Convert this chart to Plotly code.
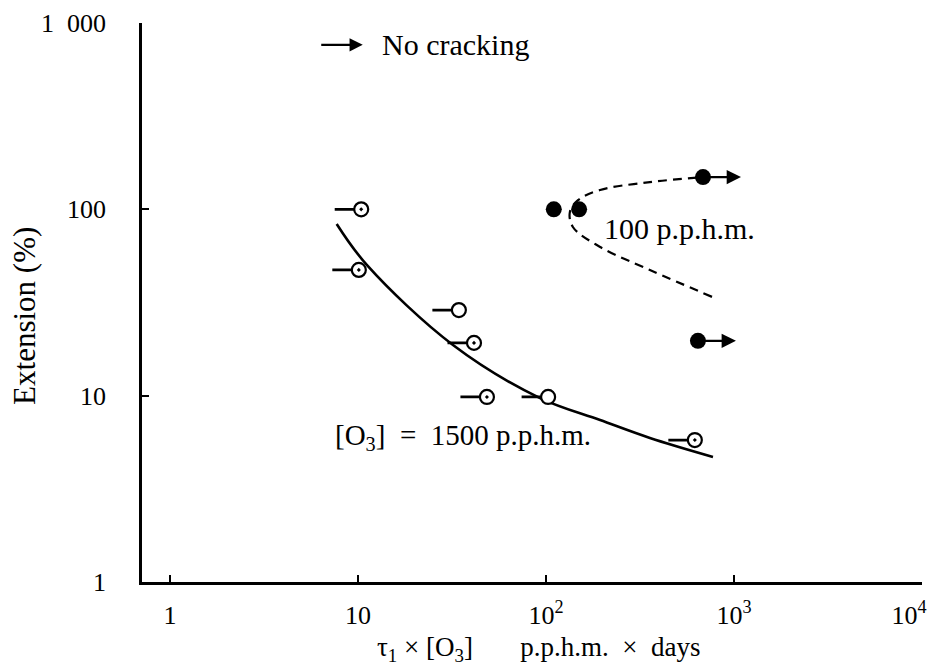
import math
import plotly.graph_objects as go

# ---------------- data ----------------
# open circles ([O3] = 1500 p.p.h.m.), with left-pointing tails
open_x = [10.4, 10.1, 34.4, 41.4, 48.5, 102.6, 619]
open_y = [100, 47.3, 28.8, 19.2, 9.84, 9.84, 5.78]
open_dotted = [True, True, False, True, True, False, True]

# filled circles (100 p.p.h.m.)
fill_x = [110, 150, 684, 643]
fill_y = [100, 100, 149, 19.7]
fill_no_crack = [False, False, True, True]

# fitted curves
solid_x = [7.7, 11.2, 32, 93, 194, 357, 773]
solid_y = [83.5, 50, 18.7, 9.7, 7.4, 5.93, 4.69]
dash_x = [764, 357, 194, 139, 134, 148, 194, 357, 684]
dash_y = [33.9, 47.3, 62.8, 80.4, 96.9, 112, 127, 140, 149]

x_tickvals = [1, 10, 100, 1000, 10000]
x_ticktext = ["1", "10", "10<sup>2</sup>", "10<sup>3</sup>",
              "10<sup>4</sup>\u00a0\u00a0\u00a0\u00a0"]
y_tickvals = [1, 10, 100, 1000]
y_ticktext = ["1", "10", "100", "1\u00a0\u00a0000"]

FONT = "'Liberation Serif', 'Times New Roman', Times, serif"
BLACK = "#000000"

fig = go.Figure()

fig.add_trace(go.Scatter(x=solid_x, y=solid_y, mode="lines",
                         line=dict(color=BLACK, width=2.6, shape="spline", smoothing=1.0),
                         hoverinfo="skip", showlegend=False))
fig.add_trace(go.Scatter(x=dash_x, y=dash_y, mode="lines",
                         line=dict(color=BLACK, width=2.2, shape="spline", smoothing=1.0,
                                   dash="9px,6px"),
                         hoverinfo="skip", showlegend=False))

annotations = []
# tails of the open circles
for xv, yv in zip(open_x, open_y):
    annotations.append(dict(x=math.log10(xv), y=math.log10(yv), xref="x", yref="y",
                            text="", showarrow=True, arrowhead=0, arrowwidth=2.8,
                            arrowcolor=BLACK, ax=-28, ay=0, standoff=7))
# "no cracking" arrows on filled circles
for xv, yv, nc in zip(fill_x, fill_y, fill_no_crack):
    if nc:
        annotations.append(dict(x=math.log10(xv), y=math.log10(yv), xref="x", yref="y",
                                text="", showarrow=True, arrowhead=2, arrowsize=1.3,
                                arrowwidth=2.2, arrowcolor=BLACK, ax=-38, ay=0,
                                xshift=38))

sym = ["circle-dot" if d else "circle" for d in open_dotted]
fig.add_trace(go.Scatter(x=open_x, y=open_y, mode="markers",
                         marker=dict(symbol=sym, size=14, color="white",
                                     line=dict(color=BLACK, width=2.2)),
                         hoverinfo="skip", showlegend=False))
fig.add_trace(go.Scatter(x=fill_x, y=fill_y, mode="markers",
                         marker=dict(symbol="circle", size=16, color=BLACK,
                                     line=dict(color=BLACK, width=0)),
                         hoverinfo="skip", showlegend=False))

# legend-like arrow + label
annotations.append(dict(x=0.283, y=0.961, xref="paper", yref="paper", text="",
                        showarrow=True, arrowhead=2, arrowsize=1.2, arrowwidth=2.2,
                        arrowcolor=BLACK, ax=-43, ay=0))
annotations.append(dict(x=0.305, y=0.961, xref="paper", yref="paper",
                        text="No cracking", showarrow=False, xanchor="left",
                        yanchor="middle", font=dict(family=FONT, size=30, color=BLACK)))
annotations.append(dict(x=0.590, y=0.633, xref="paper", yref="paper",
                        text="100 p.p.h.m.", showarrow=False, xanchor="left",
                        yanchor="middle", font=dict(family=FONT, size=30, color=BLACK)))
annotations.append(dict(x=0.245, y=0.259, xref="paper", yref="paper",
                        text="[O<sub>3</sub>]\u00a0\u00a0=\u00a0\u00a01500 p.p.h.m.",
                        showarrow=False, xanchor="left", yanchor="middle",
                        font=dict(family=FONT, size=29, color=BLACK)))
# axis titles
annotations.append(dict(x=0.508, y=-0.119, xref="paper", yref="paper",
                        text="τ<sub>1</sub>\u00a0×\u00a0[O<sub>3</sub>]\u00a0\u00a0\u00a0\u00a0\u00a0\u00a0\u00a0p.p.h.m.\u00a0\u00a0×\u00a0\u00a0days",
                        showarrow=False, xanchor="center", yanchor="middle",
                        font=dict(family=FONT, size=27, color=BLACK)))
annotations.append(dict(x=-0.150, y=0.476, xref="paper", yref="paper",
                        text="Extension (%)", textangle=-90, showarrow=False,
                        xanchor="center", yanchor="middle",
                        font=dict(family=FONT, size=31, color=BLACK)))

fig.update_layout(
    width=930, height=665,
    margin=dict(l=142, r=8, t=23, b=83),
    paper_bgcolor="white", plot_bgcolor="white",
    annotations=annotations,
    font=dict(family=FONT, color=BLACK),
)
fig.update_xaxes(type="log", range=[-0.149, 4.0], showgrid=False, zeroline=False,
                 showline=True, linecolor=BLACK, linewidth=2.6,
                 ticks="inside", ticklen=7, tickwidth=2, tickcolor=BLACK,
                 tickvals=x_tickvals, ticktext=x_ticktext,
                 tickfont=dict(family=FONT, size=26, color=BLACK),
                 ticklabelstandoff=8, ticklabeloverflow="allow", automargin=False)
fig.update_yaxes(type="log", range=[0, 3.0], showgrid=False, zeroline=False,
                 showline=True, linecolor=BLACK, linewidth=2.6,
                 ticks="inside", ticklen=7, tickwidth=2, tickcolor=BLACK,
                 tickvals=y_tickvals, ticktext=y_ticktext,
                 tickfont=dict(family=FONT, size=26, color=BLACK),
                 ticklabelstandoff=28, automargin=False)

fig.write_html("out.html")
